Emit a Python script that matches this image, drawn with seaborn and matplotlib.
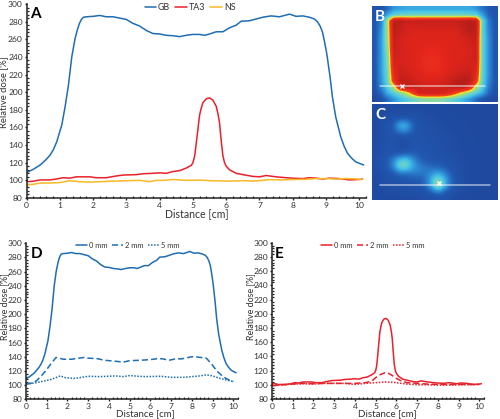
import matplotlib
matplotlib.use("Agg")
import matplotlib.pyplot as plt
import numpy as np
import pandas as pd
import seaborn as sns
from matplotlib.colors import LinearSegmentedColormap
from matplotlib.ticker import MultipleLocator

# ---- data ----
GB_X = [0,.2,.41,.6,.71,.81,.91,1.06,1.16,1.26,1.36,1.46,1.53,1.59,1.65,1.71,1.8,2,2.2,2.4,2.6,2.8,3,3.2,3.4,3.6,3.8,4,4.2,4.4,4.6,4.8,5,5.2,5.35,5.5,5.7,5.9,6.1,6.3,6.45,6.7,6.9,7.1,7.35,7.6,7.9,8.1,8.3,8.5,8.65,8.74,8.82,8.89,8.95,9.02,9.12,9.19,9.29,9.44,9.54,9.64,9.76,9.89,10.13]
GB_Y = [108.7,112.5,117.4,124,128.8,135,143.9,162.8,183.5,208,240,261,271,278,282.5,285,285.5,286,287,285.5,285.5,284,282.5,278,275,270,266.5,266,264.5,264,263,264.5,265.5,265.5,264.5,266,268.5,268.5,273,276,280.5,281,283,285,286.5,285.5,288.5,286,286.5,285,283,280,275,268.6,258,244,217.5,195,172,149.5,139,131,125.5,121,117.4]
TA3_X = [0,.2,.4,.7,.9,1.1,1.3,1.5,1.9,2.1,2.4,2.7,2.9,3.3,3.5,3.8,4,4.2,4.4,4.6,4.8,4.95,5,5.05,5.1,5.15,5.2,5.25,5.3,5.4,5.5,5.6,5.7,5.75,5.8,5.85,5.9,5.95,6,6.1,6.3,6.5,6.8,7,7.2,7.5,7.8,8,8.3,8.5,8.7,8.9,9.1,9.4,9.7,10,10.1]
TA3_Y = [98.5,99,100.5,100.5,101.5,103,102.5,104,104,103,103,105,106,106.5,107.5,108,108.5,108,110,111,114,117,120,127,142,158,174,182,188,192.5,193.5,191,184,176,165,145,128,120,116,112,108,106.5,104.5,104,105.5,104,103,102.5,102,103,102.5,101.5,102.5,102,100.5,101,101.5]
NS_X = [0,.2,.4,.7,1,1.3,1.6,1.9,2.2,2.5,2.9,3.4,3.7,3.9,4.1,4.4,4.8,5.2,5.6,6,6.3,6.5,6.8,7,7.3,7.7,8,8.4,8.7,9,9.3,9.6,9.8,10.1]
NS_Y = [95,95.5,97,97,97.5,99.5,98.5,98,98.5,99,99.5,100,98.5,100,100,101,100,100.3,99.5,99.2,99.3,99.7,99.2,99.7,100.8,100.5,101,101.2,102,102,101.5,102,101.8,101]
D2_X = [0,.3,.5,.8,1,1.2,1.45,1.6,1.8,2.2,2.8,3,3.4,3.8,4.2,4.7,5,5.5,6,6.4,6.6,6.9,7.2,7.5,8,8.3,8.7,9,9.2,9.5,9.8,10]
D2_Y = [101,103,106,115,122,130,139,138,136.5,136.5,139,138,137.5,135,134,132.5,134.5,135,136,137.5,137,135,137,137,140,139.5,138,128,120,112,107,105]
D5_X = [0,.3,.6,.9,1.2,1.4,1.65,1.9,2.3,2.6,3,3.5,4,4.3,4.7,5,5.4,5.8,6.5,7,7.6,8,8.4,8.7,9,9.3,9.7,10]
D5_Y = [102,102.5,104,106,108,110,113,110.5,109.5,110.5,112.5,112,112.5,113,112,113.5,112.5,112,112.5,111,111,112,113,114.5,113,110,107,105]
E2_X = [0,.5,1,1.5,2,2.5,3,3.5,4,4.5,4.8,5,5.2,5.45,5.6,5.8,6,6.2,6.5,7,7.5,8,8.5,9,10]
E2_Y = [102,100,101,102,101.5,102,102,102,102,103,105,110,114,117,116.5,113,109,106,103,102,101,100.5,100.5,100.5,100.5]
E5_X = [0,.5,1,1.5,2,2.5,3,3.5,4,4.5,5,5.5,6,6.5,7,7.5,8,8.5,9,9.5,10]
E5_Y = [100,100,101,101.5,101,102,102,102,100.5,102,103,104,103,101,100,100,99.5,99.5,100,100,100.5]

X_TICKS = list(range(0, 11))
Y_TICKS = list(range(80, 301, 20))

MAP_B = [
 [.08,.08,.14,.22,.24,.25,.25,.25,.25,.25,.25,.25,.25,.25,.25,.25,.22,.15,.10,.08],
 [.08,.12,.26,.35,.37,.38,.38,.38,.38,.38,.38,.38,.38,.38,.38,.37,.35,.24,.12,.08],
 [.09,.18,.50,.94,.96,.92,.90,.92,.92,.92,.92,.92,.92,.92,.94,.96,.94,.38,.17,.09],
 [.09,.20,.49,.96,.92,.86,.86,.87,.87,.87,.87,.87,.87,.88,.92,.98,.95,.37,.18,.09],
 [.09,.22,.48,.94,.89,.86,.84,.84,.84,.84,.84,.84,.84,.85,.90,.94,.93,.37,.19,.09],
 [.09,.23,.47,.92,.87,.84,.83,.83,.83,.83,.83,.83,.83,.84,.86,.89,.91,.37,.20,.09],
 [.09,.23,.46,.92,.87,.84,.83,.82,.82,.81,.81,.82,.83,.83,.85,.87,.90,.37,.20,.09],
 [.09,.23,.44,.90,.86,.84,.83,.82,.80,.79,.80,.81,.83,.83,.84,.86,.90,.37,.20,.09],
 [.09,.23,.42,.88,.86,.84,.83,.81,.78,.77,.78,.81,.83,.83,.84,.86,.90,.37,.20,.09],
 [.09,.23,.41,.86,.86,.85,.83,.81,.77,.75,.77,.80,.83,.84,.85,.87,.88,.37,.20,.09],
 [.09,.23,.40,.82,.89,.86,.84,.81,.78,.77,.78,.81,.84,.86,.87,.89,.84,.37,.20,.09],
 [.09,.22,.39,.78,.91,.89,.86,.83,.81,.81,.81,.83,.86,.89,.92,.93,.80,.37,.20,.09],
 [.09,.21,.38,.74,.93,.93,.89,.86,.84,.84,.84,.86,.91,.96,.98,.95,.74,.36,.19,.09],
 [.08,.19,.34,.50,.86,.93,.93,.89,.87,.87,.87,.89,.93,.96,.96,.82,.50,.34,.17,.08],
 [.07,.13,.26,.34,.42,.52,.68,.86,.87,.87,.87,.86,.76,.64,.52,.42,.34,.25,.13,.07],
 [.05,.08,.14,.22,.28,.33,.37,.40,.42,.42,.42,.40,.37,.33,.28,.22,.14,.09,.06,.05],
]
MAP_C = [
 [.05,.05,.05,.05,.05,.05,.05,.05,.05,.05,.05,.04,.04,.04,.04,.04,.04,.04,.04,.04],
 [.05,.05,.06,.06,.05,.06,.06,.06,.05,.05,.05,.05,.04,.04,.04,.04,.04,.04,.04,.04],
 [.05,.06,.07,.08,.09,.09,.08,.07,.06,.06,.05,.05,.05,.05,.04,.04,.04,.04,.04,.04],
 [.05,.06,.08,.11,.30,.29,.11,.08,.07,.06,.06,.05,.05,.05,.05,.04,.04,.04,.04,.04],
 [.05,.06,.08,.10,.18,.18,.10,.08,.07,.07,.06,.06,.05,.05,.05,.04,.04,.04,.04,.04],
 [.05,.06,.08,.08,.06,.07,.08,.08,.07,.07,.06,.06,.06,.05,.05,.05,.04,.04,.04,.04],
 [.05,.07,.08,.08,.05,.06,.09,.08,.08,.07,.07,.06,.06,.05,.05,.05,.04,.04,.04,.04],
 [.05,.07,.08,.08,.05,.06,.09,.09,.08,.08,.07,.06,.06,.05,.05,.05,.05,.04,.04,.04],
 [.05,.07,.08,.11,.12,.14,.13,.10,.09,.08,.07,.07,.06,.06,.05,.05,.05,.04,.04,.04],
 [.06,.08,.10,.20,.36,.38,.22,.13,.10,.09,.09,.08,.07,.06,.05,.05,.05,.04,.04,.04],
 [.06,.08,.10,.20,.42,.38,.24,.19,.15,.13,.12,.10,.08,.07,.06,.05,.05,.04,.04,.04],
 [.05,.07,.08,.10,.14,.15,.17,.17,.16,.20,.24,.18,.10,.07,.06,.05,.05,.04,.04,.04],
 [.05,.06,.07,.08,.09,.09,.10,.10,.14,.27,.42,.27,.13,.08,.06,.05,.05,.04,.04,.04],
 [.05,.06,.06,.07,.07,.08,.08,.09,.13,.28,.58,.30,.12,.08,.06,.05,.04,.04,.04,.04],
 [.05,.05,.06,.06,.06,.07,.07,.07,.08,.12,.20,.12,.08,.07,.05,.05,.04,.04,.04,.04],
 [.05,.05,.05,.05,.05,.05,.05,.06,.06,.07,.07,.07,.06,.05,.05,.04,.04,.04,.04,.04],
]
B_LINE_X = [.065, .90]
B_LINE_Y = [.165, .165]
B_CROSS = (.235, .165)
C_LINE_X = [.06, .935]
C_LINE_Y = [.155, .155]
C_CROSS = (.53, .175)

# ---- styling ----
W, H = 500, 419
BLUE, RED, YELLOW = "#1f6db3", "#e8212b", "#f7b924"
TXT = "#333333"
sns.set_theme(style="white")
plt.rcParams["font.family"] = ["Lato", "DejaVu Sans"]
DOSE = LinearSegmentedColormap.from_list("dose", [
    (0, "#1c3f92"), (.10, "#2259b2"), (.20, "#2f8fd8"), (.30, "#45c4e8"),
    (.40, "#7fd6b8"), (.48, "#a4dc6a"), (.56, "#f7e92a"), (.59, "#fbb01e"),
    (.64, "#f0451f"), (.80, "#e6261c"), (1, "#b01d1a")])

fig = plt.figure(figsize=(W / 100, H / 100), dpi=100)


def axes_px(x0, x1, ytop, ybot):
    return fig.add_axes([x0 / W, 1 - ybot / H, (x1 - x0) / W, (ybot - ytop) / H])


def curve(ax, xs, ys, color, ls, label):
    frame = pd.DataFrame({"x": xs, "y": ys})
    sns.lineplot(data=frame, x="x", y="y", color=color, linestyle=ls, linewidth=1.1,
                 label=label, ax=ax, errorbar=None, estimator=None, sort=False)


def dress(ax, letter, lx, ly, xl, yl, xlab_px, ylab_px, box, legsize, hl, xfs, yfs):
    ax.set_xlim(0, 10.2)
    ax.set_ylim(80, 300)
    ax.set_xticks(X_TICKS)
    ax.set_yticks(Y_TICKS)
    ax.xaxis.set_minor_locator(MultipleLocator(0.2))
    ax.yaxis.set_minor_locator(MultipleLocator(4))
    sns.despine(ax=ax)
    for s in ("left", "bottom"):
        ax.spines[s].set_linewidth(1.1)
        ax.spines[s].set_color("#222222")
    ax.tick_params(which="major", direction="out", length=1.5, width=1, color="#222222",
                   labelsize=6.1, labelcolor=TXT, pad=1.2, left=True, bottom=True)
    ax.tick_params(which="minor", direction="in", length=1.5, width=.9, color="#222222",
                   left=True, bottom=True)
    ax.set_xlabel(xl, fontsize=xfs, color=TXT)
    ax.set_ylabel(yl, fontsize=yfs, color=TXT)
    x0, y0, w, h = ax.get_position().bounds
    ax.xaxis.set_label_coords((xlab_px[0] / W - x0) / w, ((1 - xlab_px[1] / H) - y0) / h)
    ax.yaxis.set_label_coords((ylab_px[0] / W - x0) / w, ((1 - ylab_px[1] / H) - y0) / h)
    ax.xaxis.label.set_verticalalignment("center")
    ax.yaxis.label.set_verticalalignment("center")
    ax.text(lx, ly, letter, transform=fig.transFigure, fontsize=11, fontweight="bold",
            color="black", ha="left", va="center")
    ax.legend(loc="center", bbox_to_anchor=box, bbox_transform=fig.transFigure, ncol=3,
              frameon=False, fontsize=legsize, handlelength=hl, handletextpad=.25,
              columnspacing=.6, labelcolor=TXT, borderpad=0)


# panel A
a = axes_px(26.5, 366, 4, 198)
curve(a, GB_X, GB_Y, BLUE, "-", "GB")
curve(a, TA3_X, TA3_Y, RED, "-", "TA3")
curve(a, NS_X, NS_Y, YELLOW, "-", "NS")
dress(a, "A", 30.5 / W, 1 - 14.5 / H, "Distance [cm]", "Relative dose [%]",
      (197, 214), (4, 92), (190 / W, 1 - 7.5 / H), 6.4, 1.25, 7.6, 6.8)

# panel D
d = axes_px(26, 237.5, 243.3, 399.3)
curve(d, GB_X, GB_Y, BLUE, "-", "0 mm")
curve(d, D2_X, D2_Y, BLUE, (0, (4, 2)), "2 mm")
curve(d, D5_X, D5_Y, BLUE, (0, (1, 1)), "5 mm")
dress(d, "D", 30.5 / W, 1 - 254 / H, "Distance [cm]", "Relative dose [%]",
      (145, 413.5), (4.5, 307), (128 / W, 1 - 245 / H), 5.4, 1.5, 7.0, 6.4)

# panel E
e = axes_px(272, 483.5, 242.7, 399)
curve(e, TA3_X, TA3_Y, RED, "-", "0 mm")
curve(e, E2_X, E2_Y, RED, (0, (4, 2)), "2 mm")
curve(e, E5_X, E5_Y, RED, (0, (1, 1)), "5 mm")
dress(e, "E", 275 / W, 1 - 254 / H, "Distance [cm]", "Relative dose [%]",
      (387.5, 413.5), (250.5, 307), (373 / W, 1 - 245 / H), 5.4, 1.5, 7.0, 6.4)

# panels B and C
for box, grid, letter, line, cross, interp in (
    ((372, 498, 5.7, 101.7), MAP_B, "B", (B_LINE_X, B_LINE_Y), B_CROSS, "bilinear"),
    ((372, 498, 104, 200), MAP_C, "C", (C_LINE_X, C_LINE_Y), C_CROSS, "bicubic"),
):
    m = axes_px(*box)
    m.imshow(np.array(grid), cmap=DOSE, vmin=0, vmax=1, aspect="auto", interpolation=interp)
    m.set_xticks([])
    m.set_yticks([])
    m.grid(False)
    for s in m.spines.values():
        s.set_visible(False)
    m.plot(line[0], line[1], color="white", alpha=.6, lw=1.1, transform=m.transAxes)
    m.plot([cross[0]], [cross[1]], marker="x", ms=3.2, mew=.9, color="white", transform=m.transAxes)
    m.text(.025, .885, letter, transform=m.transAxes, color="white", fontsize=11,
           fontweight="bold", ha="left", va="center")

fig.savefig("out.png", dpi=100, facecolor="white")
